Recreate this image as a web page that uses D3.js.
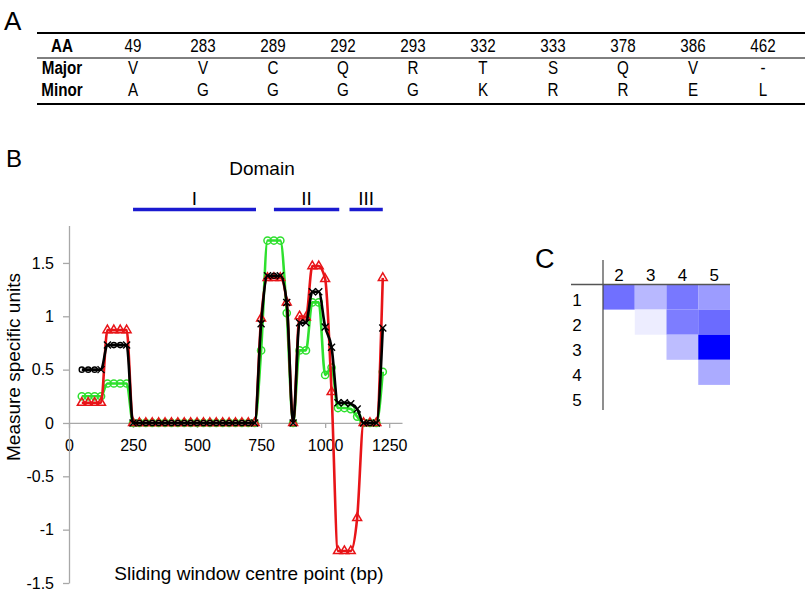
<!DOCTYPE html>
<html><head><meta charset="utf-8">
<script src="https://cdn.jsdelivr.net/npm/d3@7"></script>
<style>
html,body{margin:0;padding:0;background:#fff;}
svg{display:block;font-family:"Liberation Sans",Arial,Helvetica,sans-serif;}
</style></head><body>
<svg id="chart" width="807" height="594"></svg>
<script>
// ---------- Panel A data ----------
const aaPositions = ["49","283","289","292","293","332","333","378","386","462"];
const majorAA = ["V","V","C","Q","R","T","S","Q","V","-"];
const minorAA = ["A","G","G","G","G","K","R","R","E","L"];
const tableRowLabels = ["AA","Major","Minor"];

// ---------- Panel B data ----------
const windowCentres = [50,75,100,125,150,175,200,225,250,275,300,325,350,375,400,425,450,475,500,525,550,575,600,625,650,675,700,725,750,775,800,825,850,875,900,925,950,975,1000,1025,1050,1075,1100,1125,1150,1175,1200,1225];
const seriesGreen = [0.25,0.25,0.25,0.25,0.37,0.37,0.37,0.37,0,0,0,0,0,0,0,0,0,0,0,0,0,0,0,0,0,0,0,0,0.68,1.71,1.71,1.71,1.03,0,0.68,0.68,1.13,1.13,0.45,0.52,0.14,0.14,0.13,0.06,0,0,0,0.48];
const seriesRed   = [0.19,0.19,0.19,0.19,0.87,0.87,0.87,0.87,0,0,0,0,0,0,0,0,0,0,0,0,0,0,0,0,0,0,0,0,0.98,1.36,1.36,1.36,1.13,0,1.0,0.99,1.47,1.47,1.35,0.29,-1.2,-1.2,-1.2,-0.89,0,0,0,1.36];
const seriesBlack = [0.5,0.5,0.5,0.5,0.73,0.73,0.73,0.73,0,0,0,0,0,0,0,0,0,0,0,0,0,0,0,0,0,0,0,0,0.93,1.38,1.38,1.38,1.13,0,0.94,0.94,1.23,1.23,0.9,0.71,0.19,0.19,0.18,0.13,0,0,0,0.89];
const xTicks = [0,250,500,750,1000,1250];
const yTicks = [-1.5,-1,-0.5,0,0.5,1,1.5];
const domainNames = ["I","II","III"];
const domainStart = [250,800,1095];
const domainEnd = [730,1055,1225];

// ---------- Panel C data ----------
const heatRows = ["1","2","3","4","5"];
const heatCols = ["2","3","4","5"];
const heatValues = [
  [0.56,0.28,0.53,0.39],
  [null,0.07,0.51,0.58],
  [null,null,0.26,1.0],
  [null,null,null,0.33],
  [null,null,null,null]
];

const svg = d3.select("#chart");
const FONT = '"Liberation Sans",Arial,Helvetica,sans-serif';

// ================= Panel A =================
svg.append("text").attr("x",4).attr("y",30).attr("font-size",26).text("A");
const colX = d3.scaleBand().domain(aaPositions).range([98,798]);
const tableRows = [aaPositions, majorAA, minorAA];
const rowBase = [52, 74, 96];
const tbl = svg.append("g").attr("font-size",19);
function narrowText(g, tx, ty, txt, bold){
  g.append("text").attr("transform",`translate(${tx},${ty}) scale(0.8,1)`)
   .attr("text-anchor","middle").attr("font-weight",bold?"bold":"normal").text(txt);
}
tableRows.forEach((vals,ri)=>{
  narrowText(tbl, 62, rowBase[ri], tableRowLabels[ri], true);
  vals.forEach((d,i)=>narrowText(tbl, colX(aaPositions[i])+colX.bandwidth()/2, rowBase[ri], d, false));
});
[[33,2],[58,1],[104,2]].forEach(([yy,w])=>{
  tbl.append("line").attr("x1",37).attr("x2",805).attr("y1",yy).attr("y2",yy)
     .attr("stroke","#000").attr("stroke-width",w);
});

// ================= Panel B =================
svg.append("text").attr("x",6).attr("y",167).attr("font-size",24).text("B");
const x = d3.scaleLinear().domain([0,1300]).range([69,402]);
const y = d3.scaleLinear().domain([-1.5,1.85]).range([583,225.6]);

const gx = svg.append("g").attr("transform",`translate(0,${y(0)})`)
  .call(d3.axisBottom(x).tickValues(xTicks).tickSize(5).tickSizeOuter(0).tickPadding(12).tickFormat(d3.format("d")));
const gy = svg.append("g").attr("transform",`translate(${x(0)},0)`)
  .call(d3.axisLeft(y).tickValues(yTicks).tickSize(6).tickSizeOuter(0).tickPadding(9).tickFormat(d=>String(d)));
[gx,gy].forEach(g=>{
  g.selectAll("path,line").attr("stroke","#a8a8a8").attr("stroke-width",1.3);
  g.selectAll("text").attr("font-size",16).attr("font-family",FONT).attr("fill","#000");
});

// domain bars
svg.append("text").attr("x",262).attr("y",175).attr("text-anchor","middle").attr("font-size",19).text("Domain");
domainNames.forEach((n,i)=>{
  svg.append("line").attr("x1",x(domainStart[i])).attr("x2",x(domainEnd[i]))
    .attr("y1",209.5).attr("y2",209.5).attr("stroke","#1a1ad0").attr("stroke-width",3.5);
  svg.append("text").attr("x",(x(domainStart[i])+x(domainEnd[i]))/2).attr("y",205)
    .attr("text-anchor","middle").attr("font-size",19).text(n);
});

const line = d3.line().x((d,i)=>x(windowCentres[i])).y(d=>y(d)).curve(d3.curveMonotoneX);
const GREEN = "#2ee02e", RED = "#e81418";
svg.append("path").attr("d",line(seriesGreen)).attr("fill","none").attr("stroke",GREEN).attr("stroke-width",2.6);
svg.selectAll(".gm").data(seriesGreen).enter().append("circle").attr("class","gm")
  .attr("cx",(d,i)=>x(windowCentres[i])).attr("cy",d=>y(d)).attr("r",3.6)
  .attr("fill","none").attr("stroke",GREEN).attr("stroke-width",1.5);

svg.append("path").attr("d",line(seriesRed)).attr("fill","none").attr("stroke",RED).attr("stroke-width",2.6);
const tri = d3.symbol(d3.symbolTriangle,34);
svg.selectAll(".rm").data(seriesRed).enter().append("path").attr("class","rm")
  .attr("d",tri).attr("transform",(d,i)=>`translate(${x(windowCentres[i])},${y(d)})`)
  .attr("fill","none").attr("stroke",RED).attr("stroke-width",1.5);

svg.append("path").attr("d",line(seriesBlack)).attr("fill","none").attr("stroke","#000").attr("stroke-width",2.6);
seriesBlack.forEach((d,i)=>{
  const cx = x(windowCentres[i]), cy = y(d);
  const edge = (i>0 && seriesBlack[i-1]!==d) || (i<seriesBlack.length-1 && seriesBlack[i+1]!==d);
  if(edge){
    svg.append("path").attr("d",`M${cx-3.5},${cy-3.5}L${cx+3.5},${cy+3.5}M${cx-3.5},${cy+3.5}L${cx+3.5},${cy-3.5}`)
      .attr("stroke","#000").attr("stroke-width",1.4);
  } else {
    svg.append("circle").attr("cx",cx).attr("cy",cy).attr("r",2.6)
      .attr("fill","none").attr("stroke","#000").attr("stroke-width",1.4);
  }
});

svg.append("text").attr("transform",`translate(20,367) rotate(-90)`).attr("text-anchor","middle")
  .attr("font-size",19).text("Measure specific units");
svg.append("text").attr("x",249).attr("y",580).attr("text-anchor","middle")
  .attr("font-size",19).text("Sliding window centre point (bp)");

// ================= Panel C =================
svg.append("text").attr("x",535).attr("y",268).attr("font-size",27).text("C");
const hx = d3.scaleBand().domain(heatCols).range([603,730]);
const hy = d3.scaleBand().domain(heatRows).range([284.5,410]);
const hcol = d3.interpolateRgb("#ffffff","#0000ff");
heatValues.forEach((row,ri)=>{
  row.forEach((v,ci)=>{
    if(v===null) return;
    svg.append("rect").attr("x",hx(heatCols[ci])).attr("y",hy(heatRows[ri]))
      .attr("width",hx.bandwidth()).attr("height",hy.bandwidth()).attr("fill",hcol(v));
  });
});
svg.append("line").attr("x1",603).attr("x2",603).attr("y1",260).attr("y2",410).attr("stroke","#444").attr("stroke-width",1.2);
svg.append("line").attr("x1",571).attr("x2",730).attr("y1",284.5).attr("y2",284.5).attr("stroke","#555").attr("stroke-width",1.6);
svg.selectAll(".hc").data(heatCols).enter().append("text").attr("class","hc")
  .attr("x",d=>hx(d)+hx.bandwidth()/2).attr("y",281).attr("text-anchor","middle").attr("font-size",17).text(d=>d);
svg.selectAll(".hr").data(heatRows).enter().append("text").attr("class","hr")
  .attr("x",577).attr("y",d=>hy(d)+21.5).attr("text-anchor","middle").attr("font-size",17).text(d=>d);
</script>
</body></html>
